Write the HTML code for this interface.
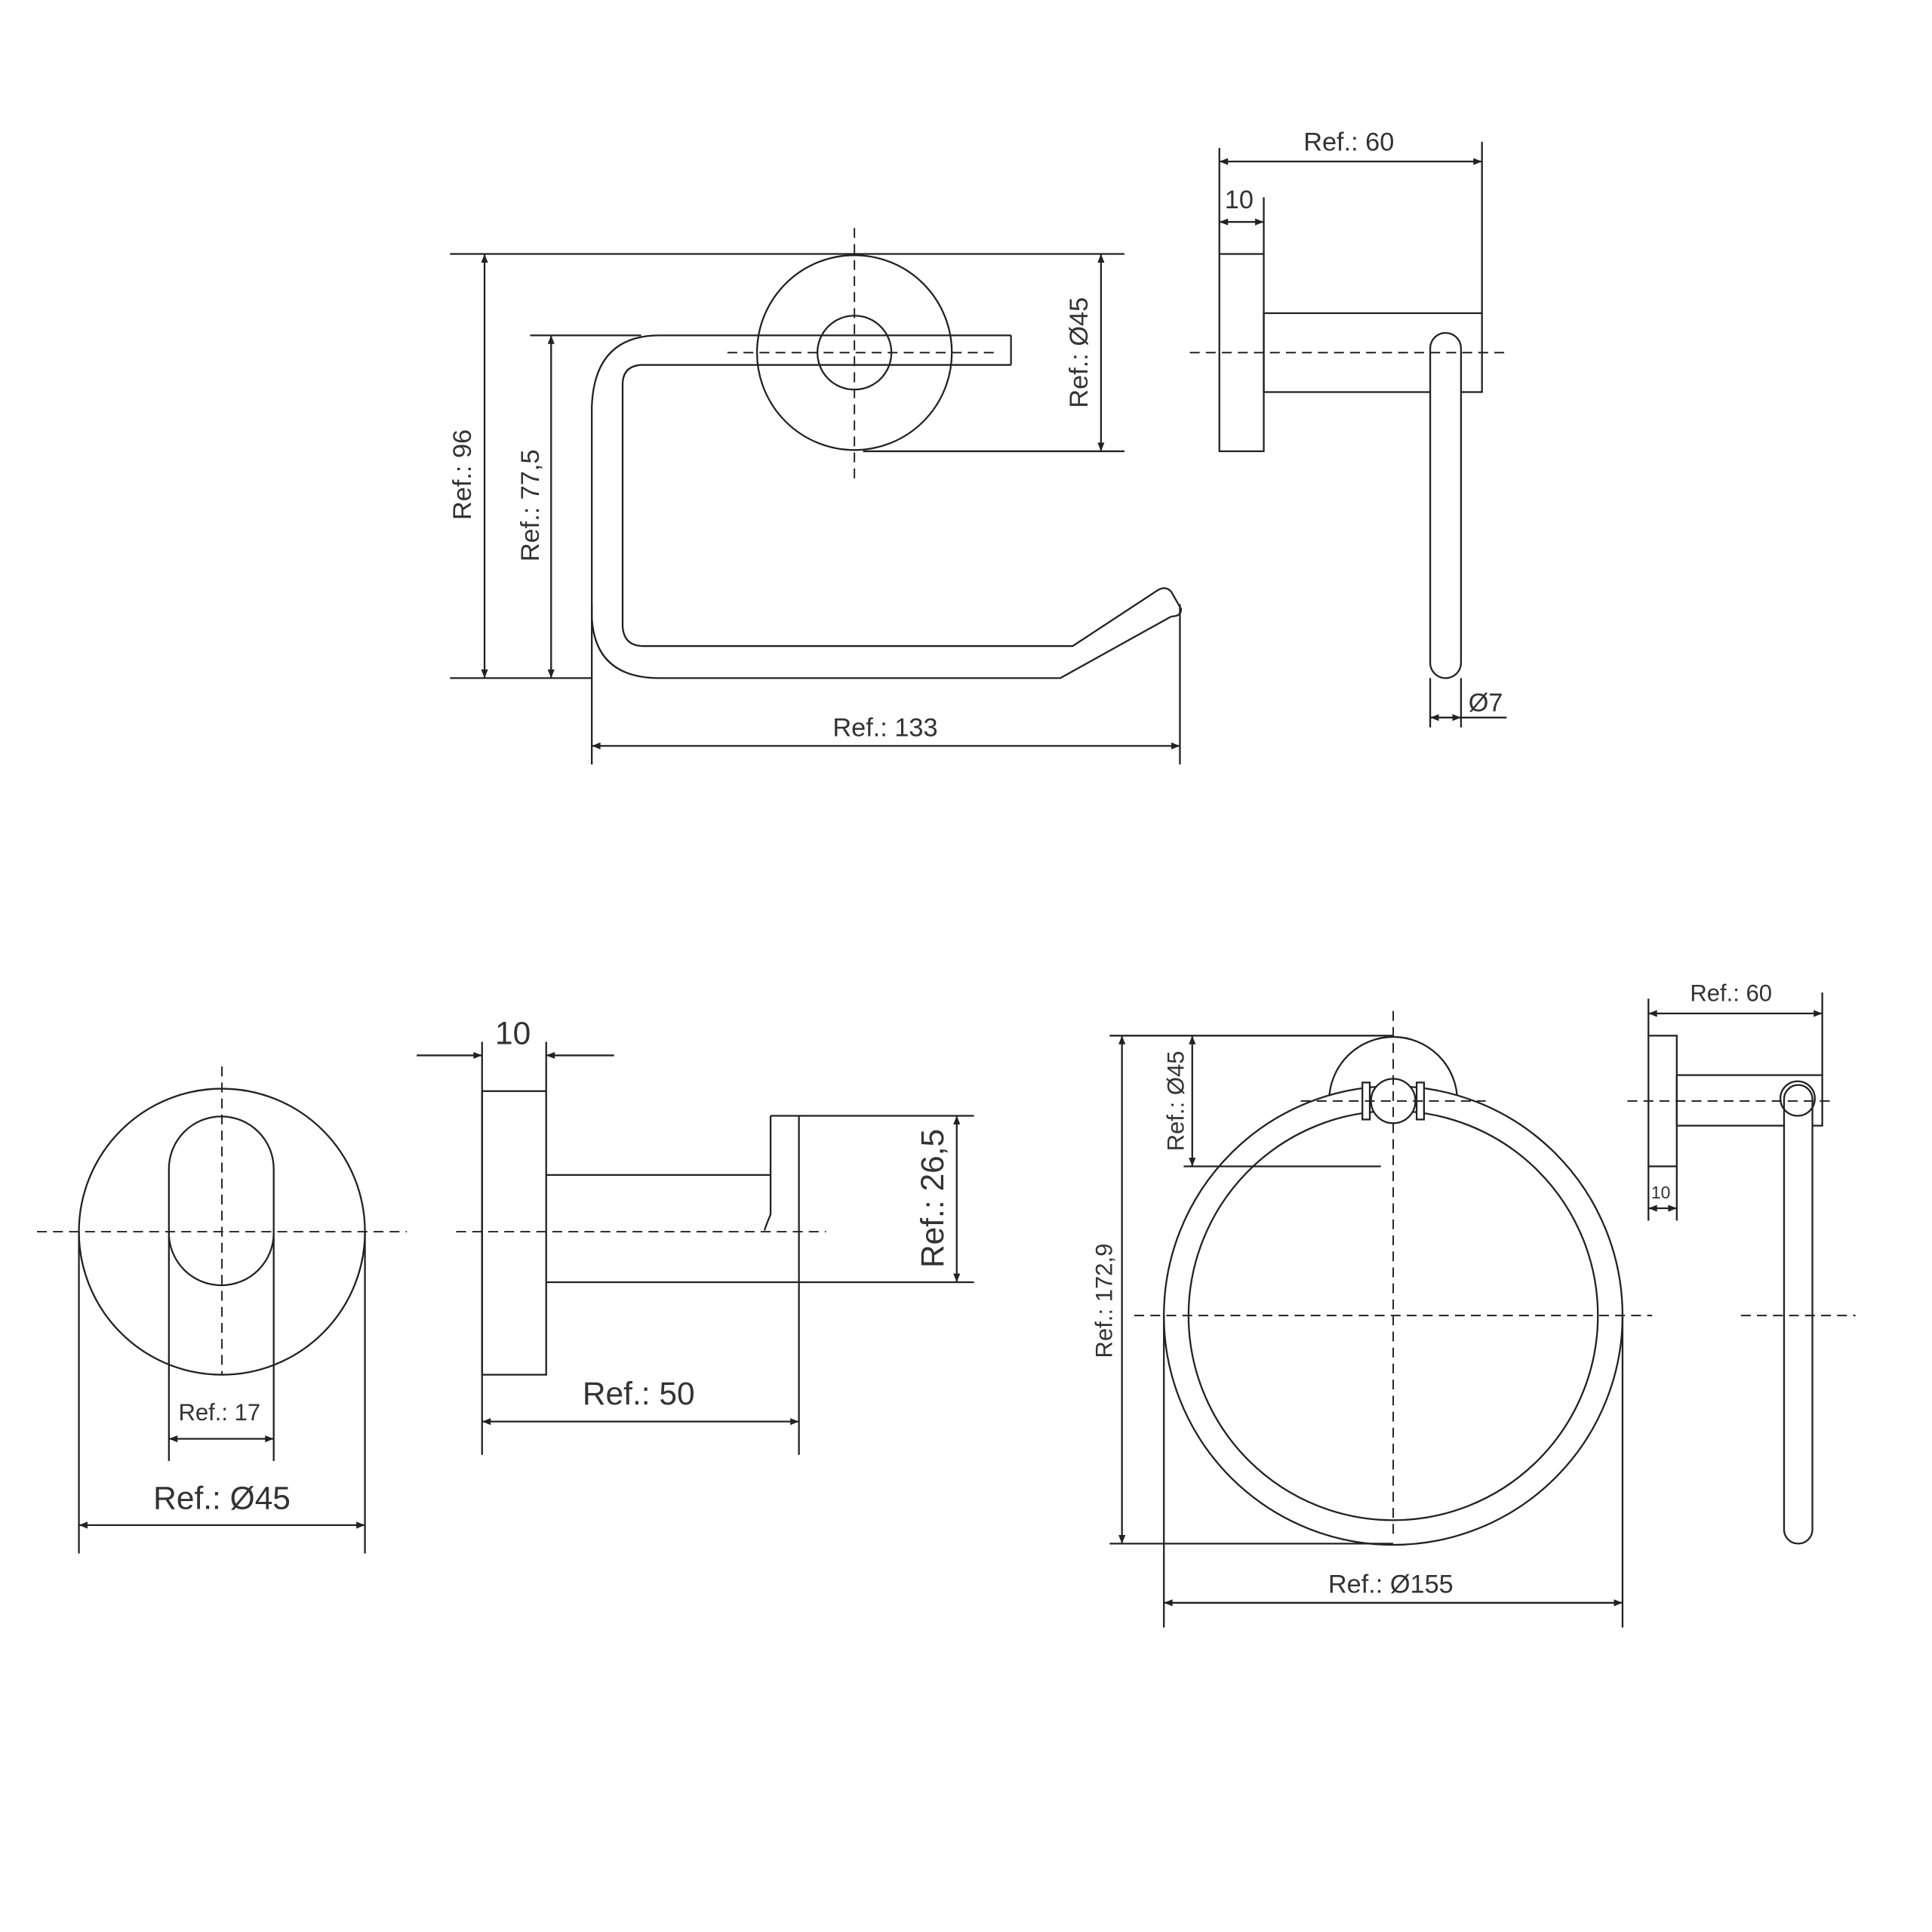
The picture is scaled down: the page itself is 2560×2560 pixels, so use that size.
<!DOCTYPE html>
<html><head><meta charset="utf-8"><style>html,body{margin:0;padding:0;background:#fff}svg{display:block}</style></head>
<body>
<svg width="2560" height="2560" viewBox="0 0 1567 1567" xmlns="http://www.w3.org/2000/svg">
<defs>
<marker id="a" viewBox="0 0 10 10" refX="10" refY="5" markerWidth="9" markerHeight="7" markerUnits="userSpaceOnUse" orient="auto-start-reverse"><path d="M0,1 L10,5 L0,9 z" fill="#222"/></marker>
</defs>
<rect width="1567" height="1567" fill="#fff"/>
<g fill="none" stroke="#222" stroke-width="1.4">
<line x1="365" y1="206" x2="912" y2="206"/>
<line x1="365" y1="550" x2="480" y2="550"/>
<line x1="393" y1="206" x2="393" y2="550" marker-start="url(#a)" marker-end="url(#a)"/>
<line x1="430" y1="272" x2="520" y2="272"/>
<line x1="447" y1="272" x2="447" y2="550" marker-start="url(#a)" marker-end="url(#a)"/>
<circle cx="693" cy="286" r="79"/>
<circle cx="693" cy="286" r="30"/>
<line x1="700" y1="366" x2="912" y2="366"/>
<line x1="893" y1="206" x2="893" y2="366" marker-start="url(#a)" marker-end="url(#a)"/>
<path d="M820,272 L535,272 Q482,272 480,330 L480,500 Q482,550 535,550 L860,550 L950,500"/>
<path d="M820,296 L520,296 Q505,297 505,312 L505,508 Q506,524 522,524 L870,524 L937,480"/>
<path d="M937,480 Q945,474 950,480 L958,494 Q958,500 950,500"/>
<path d="M820,272 L820,296"/>
<line x1="480" y1="490" x2="480" y2="620"/>
<line x1="957" y1="490" x2="957" y2="620"/>
<line x1="480" y1="605" x2="957" y2="605" marker-start="url(#a)" marker-end="url(#a)"/>
<rect x="989" y="206" width="36" height="160"/>
<rect x="1025" y="254" width="177" height="64"/>
<rect x="1160" y="270" width="25" height="280" rx="12.5" fill="#fff"/>
<line x1="989" y1="120" x2="989" y2="206"/>
<line x1="1202" y1="115" x2="1202" y2="254"/>
<line x1="989" y1="131" x2="1202" y2="131" marker-start="url(#a)" marker-end="url(#a)"/>
<line x1="1025" y1="160" x2="1025" y2="206"/>
<line x1="989" y1="180" x2="1025" y2="180" marker-start="url(#a)" marker-end="url(#a)"/>
<line x1="1160" y1="550" x2="1160" y2="590"/>
<line x1="1185" y1="550" x2="1185" y2="590"/>
<line x1="1160" y1="582" x2="1185" y2="582" marker-start="url(#a)" marker-end="url(#a)"/>
<line x1="1185" y1="582" x2="1222" y2="582"/>
<circle cx="180" cy="999" r="116"/>
<path d="M137,948 A42.5,42.5 0 0 1 222,948 L222,1000 A42.5,42.5 0 0 1 137,1000 Z"/>
<line x1="137" y1="1000" x2="137" y2="1185"/>
<line x1="222" y1="1000" x2="222" y2="1185"/>
<line x1="137" y1="1167" x2="222" y2="1167" marker-start="url(#a)" marker-end="url(#a)"/>
<line x1="64" y1="999" x2="64" y2="1260"/>
<line x1="296" y1="999" x2="296" y2="1260"/>
<line x1="64" y1="1237" x2="296" y2="1237" marker-start="url(#a)" marker-end="url(#a)"/>
<rect x="391" y="885" width="52" height="230"/>
<line x1="443" y1="953" x2="625" y2="953"/>
<line x1="443" y1="1040" x2="790" y2="1040"/>
<path d="M625,905 L625,985 Q622,992 620,998"/>
<line x1="648" y1="905" x2="648" y2="1180"/>
<line x1="625" y1="905" x2="790" y2="905"/>
<line x1="776" y1="905" x2="776" y2="1040" marker-start="url(#a)" marker-end="url(#a)"/>
<line x1="391" y1="845" x2="391" y2="1180"/>
<line x1="443" y1="845" x2="443" y2="885"/>
<line x1="338" y1="856" x2="391" y2="856" marker-end="url(#a)"/>
<line x1="498" y1="856" x2="443" y2="856" marker-end="url(#a)"/>
<line x1="391" y1="1153" x2="648" y2="1153" marker-start="url(#a)" marker-end="url(#a)"/>
<circle cx="1130" cy="893" r="52"/>
<circle cx="1130" cy="1067" r="186" fill="#fff"/>
<circle cx="1130" cy="1067" r="166"/>
<circle cx="1130" cy="893" r="18" fill="#fff"/>
<rect x="1105" y="878" width="6" height="30" fill="#fff"/>
<rect x="1149" y="878" width="6" height="30" fill="#fff"/>
<line x1="900" y1="840" x2="1130" y2="840"/>
<line x1="960" y1="946" x2="1120" y2="946"/>
<line x1="900" y1="1252" x2="1130" y2="1252"/>
<line x1="967" y1="840" x2="967" y2="946" marker-start="url(#a)" marker-end="url(#a)"/>
<line x1="910" y1="840" x2="910" y2="1252" marker-start="url(#a)" marker-end="url(#a)"/>
<line x1="944" y1="1067" x2="944" y2="1320"/>
<line x1="1316" y1="1067" x2="1316" y2="1320"/>
<line x1="944" y1="1300" x2="1316" y2="1300" marker-start="url(#a)" marker-end="url(#a)"/>
<rect x="1337" y="840" width="23" height="106"/>
<rect x="1360" y="872" width="118" height="41"/>
<rect x="1447" y="880" width="23" height="372" rx="11.5" fill="#fff"/>
<circle cx="1458" cy="891" r="14"/>
<line x1="1337" y1="810" x2="1337" y2="840"/>
<line x1="1478" y1="805" x2="1478" y2="872"/>
<line x1="1337" y1="822" x2="1478" y2="822" marker-start="url(#a)" marker-end="url(#a)"/>
<line x1="1337" y1="946" x2="1337" y2="990"/>
<line x1="1360" y1="946" x2="1360" y2="990"/>
<line x1="1337" y1="980" x2="1360" y2="980" marker-start="url(#a)" marker-end="url(#a)"/>
</g>
<g fill="none" stroke="#222" stroke-width="1.2" stroke-dasharray="8,5">
<line x1="693" y1="185" x2="693" y2="388"/>
<line x1="590" y1="286" x2="810" y2="286"/>
<line x1="965" y1="286" x2="1220" y2="286"/>
<line x1="180" y1="865" x2="180" y2="1115"/>
<line x1="30" y1="999" x2="330" y2="999"/>
<line x1="370" y1="999" x2="670" y2="999"/>
<line x1="1130" y1="820" x2="1130" y2="1245"/>
<line x1="920" y1="1067" x2="1340" y2="1067"/>
<line x1="1055" y1="893" x2="1205" y2="893"/>
<line x1="1320" y1="893" x2="1485" y2="893"/>
<line x1="1412" y1="1067" x2="1505" y2="1067"/>
</g>
<g font-family="Liberation Sans, sans-serif" fill="#333" text-anchor="middle">
<text x="1094" y="122" font-size="21">Ref.: 60</text>
<text x="1005" y="169" font-size="21">10</text>
<text x="1205" y="577" font-size="21">Ø7</text>
<text x="718" y="597" font-size="21">Ref.: 133</text>
<text transform="translate(382,385) rotate(-90)" font-size="21">Ref.: 96</text>
<text transform="translate(437,410) rotate(-90)" font-size="21">Ref.: 77,5</text>
<text transform="translate(882,286) rotate(-90)" font-size="21">Ref.: Ø45</text>
<text x="178" y="1152" font-size="19">Ref.: 17</text>
<text x="180" y="1224" font-size="26">Ref.: Ø45</text>
<text x="416" y="847" font-size="26">10</text>
<text x="518" y="1139" font-size="26">Ref.: 50</text>
<text transform="translate(765,972) rotate(-90)" font-size="26">Ref.: 26,5</text>
<text transform="translate(960,893) rotate(-90)" font-size="19">Ref.: Ø45</text>
<text transform="translate(902,1055) rotate(-90)" font-size="19">Ref.: 172,9</text>
<text x="1128" y="1292" font-size="21">Ref.: Ø155</text>
<text x="1404" y="812" font-size="19">Ref.: 60</text>
<text x="1347" y="972" font-size="14">10</text>
</g>
</svg>
</body></html>
